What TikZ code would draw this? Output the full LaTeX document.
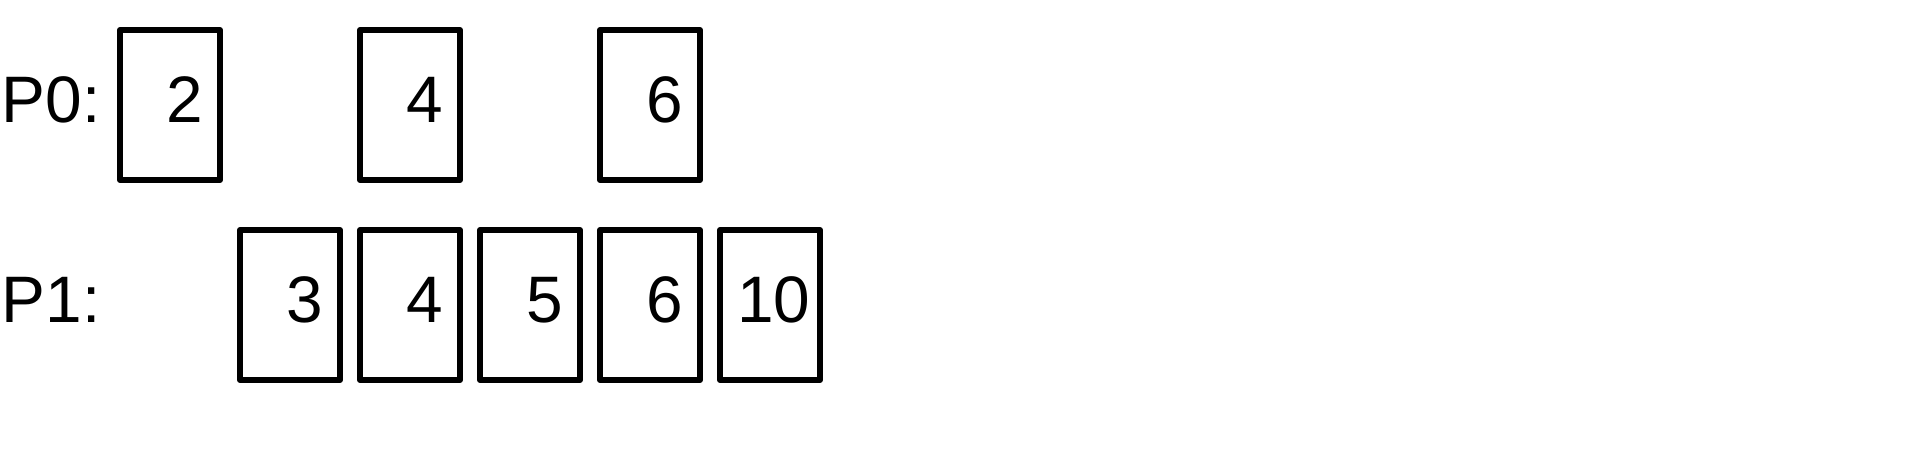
\documentclass[tikz,border=0pt]{standalone}
\usepackage{fontspec}
\setmainfont{Liberation Sans}
\usetikzlibrary{positioning}
\tikzset{
  cellbox/.style={rectangle, draw=black, line width=0.06cm, line join=round,
    outer sep=0pt, minimum width=1cm, minimum height=1.5cm, inner xsep=0pt,
    text width=0.66cm, align=right, text height=0.47cm, text depth=0.13cm,
    font=\fontsize{18.7}{22}\selectfont},
  rowlabel/.style={anchor=base west, inner sep=0pt,
    font=\fontsize{18.7}{22}\selectfont},
}
\begin{document}
\begin{tikzpicture}[node distance=0.2cm]
  \useasboundingbox (0,0) rectangle (19.14,-4.56);
  % row P0
  \node[cellbox] (a1) at (1.7,-1.05) {2};
  \node[cellbox, right=1.4cm of a1] (a2) {4};
  \node[cellbox, right=1.4cm of a2] (a3) {6};
  % row P1
  \node[cellbox, below=0.5cm of a2] (b2) {4};
  \node[cellbox, left=of b2] (b1) {3};
  \node[cellbox, right=of b2] (b3) {5};
  \node[cellbox, right=of b3] (b4) {6};
  \node[cellbox, right=of b4] (b5) {10};
  % labels
  \node[rowlabel] (p0) at (0.01,-1.22) {P0:};
  \node[rowlabel] (p1) at (0.01,-3.22) {P1:};
\end{tikzpicture}
\end{document}
